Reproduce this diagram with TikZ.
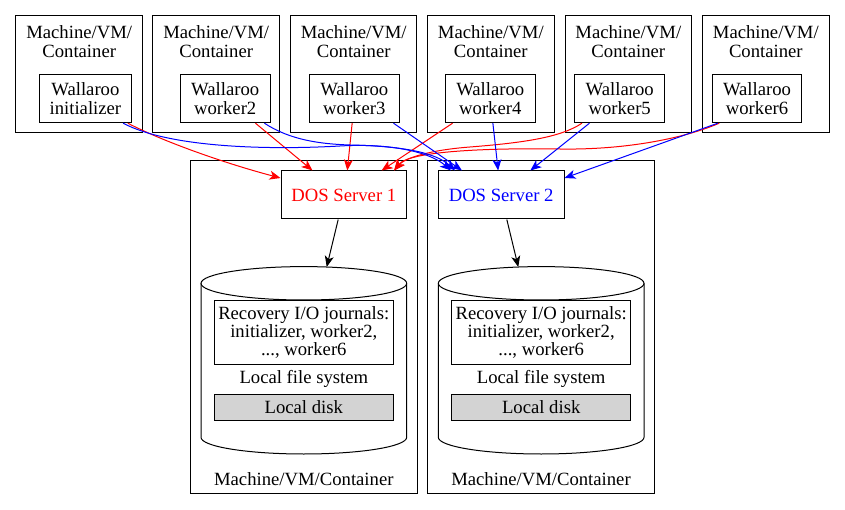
\documentclass[tikz,border=0pt]{standalone}
\usepackage{fontspec}
\setmainfont{Liberation Serif}
\usetikzlibrary{arrows.meta}
\definecolor{diskgray}{HTML}{D3D3D3}
\begin{document}
\begin{tikzpicture}[x=1pt,y=-1pt,line width=1pt,
    font=\fontsize{18.67}{18.3}\selectfont,
    >={Stealth[length=11pt,width=9pt,inset=3pt]},
    box/.style={draw,inner sep=0pt},
    txt/.style={align=center,inner sep=0pt}]
    \useasboundingbox (0,0) rectangle (845,510);
    \node[box,minimum width=127pt,minimum height=117.3pt] (m1) at (79.2,74.3) {};
    \node[box,minimum width=126.5pt,minimum height=117.3pt] (m2) at (216.2,74.3) {};
    \node[box,minimum width=126.5pt,minimum height=117.3pt] (m3) at (353.7,74.3) {};
    \node[box,minimum width=127pt,minimum height=117.3pt] (m4) at (490.8,74.3) {};
    \node[box,minimum width=126.5pt,minimum height=117.3pt] (m5) at (628.3,74.3) {};
    \node[box,minimum width=127pt,minimum height=117.3pt] (m6) at (765.8,74.3) {};
    \node[txt] (t1) at (79.2,41.5) {Machine/VM/\\Container};
    \node[txt] (t2) at (216.2,41.5) {Machine/VM/\\Container};
    \node[txt] (t3) at (353.7,41.5) {Machine/VM/\\Container};
    \node[txt] (t4) at (490.8,41.5) {Machine/VM/\\Container};
    \node[txt] (t5) at (628.3,41.5) {Machine/VM/\\Container};
    \node[txt] (t6) at (765.8,41.5) {Machine/VM/\\Container};
    \node[box,align=center,minimum width=92.7pt,minimum height=48pt] (w1) at (85.4,98.7) {Wallaroo\\initializer};
    \node[box,align=center,minimum width=89.7pt,minimum height=48pt] (w2) at (225.2,98.7) {Wallaroo\\worker2};
    \node[box,align=center,minimum width=89.7pt,minimum height=48pt] (w3) at (354.3,98.7) {Wallaroo\\worker3};
    \node[box,align=center,minimum width=89.7pt,minimum height=48pt] (w4) at (490.3,98.7) {Wallaroo\\worker4};
    \node[box,align=center,minimum width=89.7pt,minimum height=48pt] (w5) at (619.7,98.7) {Wallaroo\\worker5};
    \node[box,align=center,minimum width=89.7pt,minimum height=48pt] (w6) at (757,98.7) {Wallaroo\\worker6};

    \node[box,minimum width=227pt,minimum height=333.3pt] (c1) at (303.8,326.7) {};
    \node[box,minimum width=226.6pt,minimum height=333.3pt] (c2) at (541,326.7) {};
    \node[box,text=red,minimum width=125.7pt,minimum height=48pt] (s1) at (343.85,195) {DOS Server 1};
    \node[box,text=blue,minimum width=125.7pt,minimum height=48pt] (s2) at (501.15,195) {DOS Server 2};
    \draw (201,283.3) -- (201,437.3) arc[start angle=180,end angle=360,x radius=102.85pt,y radius=16.7pt] -- (406.7,283.3);
    \draw (303.85,283.3) ellipse [x radius=102.85pt,y radius=16.7pt];
    \draw (438.3,283.3) -- (438.3,437.3) arc[start angle=180,end angle=360,x radius=102.85pt,y radius=16.7pt] -- (644,283.3);
    \draw (541.15,283.3) ellipse [x radius=102.85pt,y radius=16.7pt];
    \coordinate (d1) at (326.7,267);
    \coordinate (d2) at (518.3,267);
    \node[box,align=center,minimum width=179pt,minimum height=63.6pt] (r1) at (303.8,332.5) {Recovery I/O journals:\\initializer, worker2,\\..., worker6};
    \node[box,align=center,minimum width=179pt,minimum height=63.6pt] (r2) at (541.2,332.5) {Recovery I/O journals:\\initializer, worker2,\\..., worker6};
    \node[txt] (f1) at (303.8,379.3) {Local file system};
    \node[txt] (f2) at (541.2,379.3) {Local file system};
    \node[box,fill=diskgray,minimum width=179pt,minimum height=26pt] (k1) at (303.8,407) {Local disk};
    \node[box,fill=diskgray,minimum width=179pt,minimum height=26pt] (k2) at (541.2,407) {Local disk};
    \node[txt] (l1) at (303.8,479.3) {Machine/VM/Container};
    \node[txt] (l2) at (541,479.3) {Machine/VM/Container};

    \draw [->] (s1.-103) -- (d1);
    \draw [->] (s2.-77) -- (d2);

    \draw [->,red] (w1.-30) .. controls (160,140) and (220,162) .. (s1.165);
    \draw [->,red] (w2.-39) -- (s1.142);
    \draw [->,red] (w3.-95) -- (s1.82);
    \draw [->,red] (w4.-147) -- (s1.33);
    \draw [->,red] (w5.-147) .. controls (560,138) and (520,143) .. (470,147) .. controls (430,150) and (405,158) .. (s1.26);
    \draw [->,red] (w6.-147) .. controls (680,140) and (620,150) .. (560,149) .. controls (500,148) and (410,150) .. (s1.26);

    \draw [->,blue] (w1.-33) .. controls (170,148) and (270,150) .. (340,146) .. controls (390,143) and (430,152) .. (s2.154);
    \draw [->,blue] (w2.-32) .. controls (290,140) and (320,144) .. (350,145) .. controls (400,146) and (435,152) .. (s2.152);
    \draw [->,blue] (w3.-32) -- (s2.148);
    \draw [->,blue] (w4.-84) -- (s2.97);
    \draw [->,blue] (w5.-141) -- (s2.40);
    \draw [->,blue] (w6.-148) -- (s2.15);
\end{tikzpicture}
\end{document}
